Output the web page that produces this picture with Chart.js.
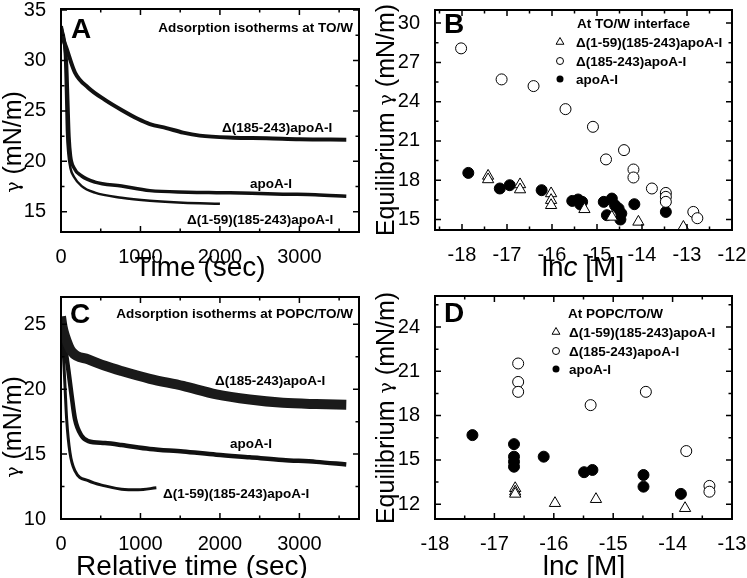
<!DOCTYPE html>
<html lang="en">
<head>
<meta charset="UTF-8">
<title>Adsorption isotherms and equilibrium tension</title>
<script src="https://cdn.jsdelivr.net/npm/chart.js@4.4.0/dist/chart.umd.min.js"></script>
<style>
  body { margin: 0; background: #fff; }
  #wrap { position: relative; width: 747px; height: 578px; }
  canvas { position: absolute; }
</style>
</head>
<body>
<div id="wrap">
  <canvas id="pA" width="373" height="285" style="left:0;top:0"></canvas>
  <canvas id="pB" width="374" height="285" style="left:373px;top:0"></canvas>
  <canvas id="pC" width="373" height="293" style="left:0;top:285px"></canvas>
  <canvas id="pD" width="374" height="293" style="left:373px;top:285px"></canvas>
</div>
<script>
// ---- panel A: adsorption at TO/W (time in sec, gamma in mN/m)
const aTime185 = [0, 20, 70, 176, 343, 553, 762, 971, 1118, 1327, 1536, 1746, 2164, 2583, 3002, 3590];
const aGamma185 = [33.4, 32.4, 31.2, 28.8, 27.3, 26.1, 25.1, 24.2, 23.7, 23.3, 22.85, 22.55, 22.35, 22.3, 22.2, 22.15];
const aTimeApo = [0, 40, 70, 85, 100, 120, 160, 260, 427, 762, 1118, 1600, 1955, 2400, 2792, 3200, 3590];
const aGammaApo = [33.3, 32, 29.5, 26, 22.5, 20.5, 19.4, 18.55, 17.95, 17.55, 17.1, 16.95, 16.9, 16.85, 16.75, 16.7, 16.55];
const aTimeDel = [0, 30, 50, 63, 75, 92, 120, 160, 260, 427, 762, 1118, 1536, 2000];
const aGammaDel = [33.3, 32, 30.5, 27, 23, 20.8, 19.3, 18.5, 17.55, 16.9, 16.4, 16.1, 15.9, 15.8];

// ---- panel C: adsorption at POPC/TO/W
const cTime185 = [0, 20, 50, 134, 343, 553, 762, 1118, 1536, 1955, 2374, 2792, 3211, 3590];
const cGamma185 = [25.6, 24.8, 24.1, 22.9, 22.3, 21.8, 21.4, 20.8, 20.25, 19.6, 19.2, 18.95, 18.85, 18.8];
const cTimeApo = [0, 50, 92, 134, 176, 260, 343, 553, 762, 1118, 1536, 1955, 2374, 2792, 3211, 3590];
const cGammaApo = [25.3, 23.3, 21.5, 19.5, 17.7, 16.4, 16.0, 15.85, 15.7, 15.4, 15.2, 14.95, 14.75, 14.55, 14.4, 14.2];
const cTimeDel = [0, 29, 50, 71, 113, 176, 343, 553, 762, 971, 1200];
const cGammaDel = [25.2, 22.8, 20.25, 17.7, 15.1, 13.7, 12.95, 12.55, 12.3, 12.25, 12.4];

// ---- panel B: equilibrium gamma vs ln c at TO/W
const bLnC185 = [-18.02, -17.12, -16.41, -15.70, -15.09, -14.80, -14.40, -14.19, -14.19, -13.78, -13.47, -13.47, -13.47, -12.86, -12.77];
const bGamma185 = [28.07, 25.70, 25.19, 23.43, 22.08, 19.59, 20.30, 18.82, 18.21, 17.37, 17.03, 16.73, 16.35, 15.58, 15.10];
const bLnCDel = [-17.42, -17.42, -16.71, -16.71, -16.02, -16.02, -16.02, -15.28, -14.67, -14.08, -13.08];
const bGammaDel = [18.33, 18.06, 17.68, 17.29, 16.99, 16.48, 16.09, 15.78, 15.2, 14.82, 14.43];
const bLnCApo = [-17.86, -17.16, -16.94, -16.23, -15.55, -15.42, -15.37, -15.33, -14.85, -14.78, -14.67, -14.60, -14.52, -14.46, -14.48, -14.17, -13.47];
const bGammaApo = [18.56, 17.37, 17.62, 17.24, 16.42, 16.53, 16.15, 16.35, 16.35, 15.33, 16.6, 16.09, 15.84, 15.46, 15.0, 16.17, 15.58];

// ---- panel D: equilibrium gamma vs ln c at POPC/TO/W
const dLnC185 = [-16.60, -16.60, -16.60, -15.38, -14.45, -13.77, -13.38, -13.38];
const dGamma185 = [21.53, 20.28, 19.61, 18.71, 19.61, 15.6, 13.24, 12.85];
const dLnCDel = [-16.65, -16.65, -16.65, -15.98, -15.29, -13.79];
const dGammaDel = [13.08, 12.85, 12.7, 12.07, 12.34, 11.73];
const dLnCApo = [-17.37, -16.67, -16.67, -16.67, -16.67, -16.17, -15.49, -15.35, -14.49, -14.49, -13.86];
const dGammaApo = [16.68, 16.07, 15.22, 14.88, 14.54, 15.22, 14.17, 14.32, 13.98, 13.19, 12.70];

// ---- tick labels
const timeTicks = [0, 1000, 2000, 3000];
const timeMinor = [500, 1500, 2500, 3500];
const aYTicks = [15, 20, 25, 30, 35];
const aYMinor = [17.5, 22.5, 27.5, 32.5];
const cYTicks = [10, 15, 20, 25];
const cYMinor = [12.5, 17.5, 22.5];
const bXTicks = [-18, -17, -16, -15, -14, -13, -12];
const bXMinor = [-18.5, -17.5, -16.5, -15.5, -14.5, -13.5, -12.5];
const bYTicks = [15, 18, 21, 24, 27, 30];
const bYMinor = [16.5, 19.5, 22.5, 25.5, 28.5];
const dXTicks = [-18, -17, -16, -15, -14, -13];
const dXMinor = [-17.5, -16.5, -15.5, -14.5, -13.5];
const dYTicks = [12, 15, 18, 21, 24];
const dYMinor = [13.5, 16.5, 19.5, 22.5, 25.5];

const SANS = '"Liberation Sans", Arial, sans-serif';
Chart.defaults.font.family = SANS;
Chart.defaults.color = '#000';

const pts = (xs, ys) => xs.map((x, i) => ({ x: x, y: ys[i] }));

// frame + inward ticks on all four sides
const frameTicks = {
  id: 'frameTicks',
  afterDraw(chart, args, o) {
    const { ctx, chartArea: a } = chart;
    const x = chart.scales.x, y = chart.scales.y;
    ctx.save();
    ctx.strokeStyle = '#000';
    ctx.lineWidth = 1.5;
    const tick = (vals, len, horiz) => vals.forEach(v => {
      ctx.beginPath();
      if (horiz) {
        const p = x.getPixelForValue(v);
        ctx.moveTo(p, a.bottom); ctx.lineTo(p, a.bottom - len);
        ctx.moveTo(p, a.top); ctx.lineTo(p, a.top + len);
      } else {
        const p = y.getPixelForValue(v);
        ctx.moveTo(a.left, p); ctx.lineTo(a.left + len, p);
        ctx.moveTo(a.right, p); ctx.lineTo(a.right - len, p);
      }
      ctx.stroke();
    });
    tick(o.xMajor, 6, true); tick(o.xMinor, 3.5, true);
    tick(o.yMajor, 6, false); tick(o.yMinor, 3.5, false);
    ctx.lineWidth = 2;
    ctx.strokeRect(a.left, a.top, a.right - a.left, a.bottom - a.top);
    ctx.restore();
  }
};

// titles, annotations and legend symbols
const panelText = {
  id: 'panelText',
  afterDraw(chart, args, o) {
    const ctx = chart.ctx;
    ctx.save();
    ctx.fillStyle = '#000';
    ctx.strokeStyle = '#000';
    (o.items || []).forEach(it => {
      if (it.sym) {
        ctx.lineWidth = 1;
        ctx.beginPath();
        if (it.sym === 'tri') {
          const r = 4.5;
          ctx.moveTo(it.x, it.y - r);
          ctx.lineTo(it.x + r * 0.87, it.y + r * 0.5);
          ctx.lineTo(it.x - r * 0.87, it.y + r * 0.5);
          ctx.closePath();
          ctx.stroke();
        } else {
          ctx.arc(it.x, it.y, 3.5, 0, Math.PI * 2);
          if (it.sym === 'dot') ctx.fill(); else ctx.stroke();
        }
        return;
      }
      let w = 0;
      it.parts.forEach(p => { ctx.font = p[1]; w += ctx.measureText(p[0]).width; });
      ctx.save();
      ctx.translate(it.x, it.y);
      if (it.rot) ctx.rotate(-Math.PI / 2);
      ctx.textBaseline = it.base || 'alphabetic';
      let cx = it.align === 'center' ? -w / 2 : it.align === 'right' ? -w : 0;
      it.parts.forEach(p => {
        ctx.font = p[1];
        ctx.fillText(p[0], cx, 0);
        cx += ctx.measureText(p[0]).width;
      });
      ctx.restore();
    });
    ctx.restore();
  }
};

const B13 = 'bold 13.5px ' + SANS;
const AX = '28px ' + SANS;
const AY = '25px ' + SANS;
const GAM = '19px "DejaVu Serif", serif';

function axis(min, max, ticks, size, isX) {
  return {
    type: 'linear', min: min, max: max,
    grid: { display: false }, border: { display: false },
    ticks: { font: { size: 20 }, color: '#000', padding: isX ? 5 : 7, autoSkip: false, maxRotation: 0, callback: v => String(v) },
    afterBuildTicks: s => { s.ticks = ticks.map(v => ({ value: v })); },
    afterFit: s => {
      if (isX) { s.height = size; s.paddingLeft = 0; s.paddingRight = 0; }
      else { s.width = size; s.paddingTop = 0; s.paddingBottom = 0; }
    }
  };
}

function panel(id, o) {
  return new Chart(document.getElementById(id), {
    type: 'scatter',
    data: { datasets: o.datasets },
    options: {
      responsive: false, animation: false, devicePixelRatio: 1,
      layout: { padding: o.pad },
      plugins: {
        legend: { display: false }, tooltip: { enabled: false },
        frameTicks: { xMajor: o.x[2], xMinor: o.xMinor, yMajor: o.y[2], yMinor: o.yMinor },
        panelText: { items: o.texts }
      },
      scales: {
        x: axis(o.x[0], o.x[1], o.x[2], o.xh, true),
        y: axis(o.y[0], o.y[1], o.y[2], o.yw, false)
      }
    },
    plugins: [frameTicks, panelText]
  });
}

function trace(xs, ys, w, col) {
  return { data: pts(xs, ys), showLine: true, pointRadius: 0, borderColor: col || '#000',
           borderWidth: w, cubicInterpolationMode: 'monotone', fill: false };
}
function marks(xs, ys, style, filled, r) {
  return { data: pts(xs, ys), showLine: false, pointStyle: style, pointRadius: r,
           backgroundColor: filled ? '#000' : '#fff', borderColor: '#000', borderWidth: 1 };
}

// A
panel('pA', {
  pad: { left: 0, top: 9, right: 14, bottom: 0 }, yw: 61, xh: 53,
  x: [0, 3750, timeTicks], xMinor: timeMinor,
  y: [13, 35.1, aYTicks], yMinor: aYMinor,
  datasets: [
    trace(aTime185, aGamma185, 4, '#111'),
    trace(aTimeApo, aGammaApo, 3.5, '#111'),
    trace(aTimeDel, aGammaDel, 2.5, '#111')
  ],
  texts: [
    { parts: [['A', 'bold 28px ' + SANS]], x: 81, y: 38, align: 'center' },
    { parts: [['Adsorption isotherms at TO/W', B13]], x: 353, y: 32, align: 'right' },
    { parts: [['Δ(185-243)apoA-I', B13]], x: 222, y: 132 },
    { parts: [['apoA-I', B13]], x: 250, y: 188 },
    { parts: [['Δ(1-59)(185-243)apoA-I', B13]], x: 187, y: 224 },
    { parts: [['γ', GAM], [' (mN/m)', AY]], x: 14, y: 142, align: 'center', rot: true, base: 'middle' },
    { parts: [['Time (sec)', AX]], x: 200, y: 268, align: 'center', base: 'middle' }
  ]
});

// B
panel('pB', {
  pad: { left: 0, top: 10, right: 15, bottom: 0 }, yw: 62, xh: 55,
  x: [-18.6, -12, bXTicks], xMinor: bXMinor,
  y: [14.2, 31, bYTicks], yMinor: bYMinor,
  datasets: [
    marks(bLnC185, bGamma185, 'circle', false, 5.5),
    marks(bLnCDel, bGammaDel, 'triangle', false, 6.5),
    marks(bLnCApo, bGammaApo, 'circle', true, 5.5)
  ],
  texts: [
    { parts: [['B', 'bold 28px ' + SANS]], x: 81, y: 33, align: 'center' },
    { parts: [['At TO/W interface', B13]], x: 204, y: 28 },
    { sym: 'tri', x: 187, y: 42 },
    { parts: [['Δ(1-59)(185-243)apoA-I', B13]], x: 203, y: 47 },
    { sym: 'open', x: 187, y: 61 },
    { parts: [['Δ(185-243)apoA-I', B13]], x: 203, y: 66 },
    { sym: 'dot', x: 187, y: 79 },
    { parts: [['apoA-I', B13]], x: 203, y: 84 },
    { parts: [['Equilibrium ', AY], ['γ', GAM], [' (mN/m)', AY]], x: 14, y: 120, align: 'center', rot: true, base: 'middle' },
    { parts: [['ln', AX], ['c', 'italic ' + AX], [' [M]', AX]], x: 210, y: 268, align: 'center', base: 'middle' }
  ]
});

// C
panel('pC', {
  pad: { left: 0, top: 12, right: 14, bottom: 0 }, yw: 61, xh: 59,
  x: [0, 3750, timeTicks], xMinor: timeMinor,
  y: [10, 27.1, cYTicks], yMinor: cYMinor,
  datasets: [
    trace(cTime185, cGamma185, 10, '#1a1a1a'),
    trace(cTimeApo, cGammaApo, 4.5, '#111'),
    trace(cTimeDel, cGammaDel, 3, '#111')
  ],
  texts: [
    { parts: [['C', 'bold 28px ' + SANS]], x: 80, y: 38, align: 'center' },
    { parts: [['Adsorption isotherms at POPC/TO/W', B13]], x: 353, y: 33, align: 'right' },
    { parts: [['Δ(185-243)apoA-I', B13]], x: 215, y: 100 },
    { parts: [['apoA-I', B13]], x: 230, y: 163 },
    { parts: [['Δ(1-59)(185-243)apoA-I', B13]], x: 163, y: 213 },
    { parts: [['γ', GAM], [' (mN/m)', AY]], x: 14, y: 142, align: 'center', rot: true, base: 'middle' },
    { parts: [['Relative time (sec)', AX]], x: 192, y: 282, align: 'center', base: 'middle' }
  ]
});

// D
panel('pD', {
  pad: { left: 0, top: 11, right: 15, bottom: 0 }, yw: 62, xh: 59,
  x: [-18, -13, dXTicks], xMinor: dXMinor,
  y: [11, 26.1, dYTicks], yMinor: dYMinor,
  datasets: [
    marks(dLnC185, dGamma185, 'circle', false, 5.5),
    marks(dLnCDel, dGammaDel, 'triangle', false, 6.5),
    marks(dLnCApo, dGammaApo, 'circle', true, 5.5)
  ],
  texts: [
    { parts: [['D', 'bold 28px ' + SANS]], x: 81, y: 37, align: 'center' },
    { parts: [['At POPC/TO/W', B13]], x: 195, y: 33 },
    { sym: 'tri', x: 183, y: 47 },
    { parts: [['Δ(1-59)(185-243)apoA-I', B13]], x: 196, y: 52 },
    { sym: 'open', x: 183, y: 66 },
    { parts: [['Δ(185-243)apoA-I', B13]], x: 196, y: 71 },
    { sym: 'dot', x: 183, y: 84 },
    { parts: [['apoA-I', B13]], x: 196, y: 89 },
    { parts: [['Equilibrium ', AY], ['γ', GAM], [' (mN/m)', AY]], x: 14, y: 123, align: 'center', rot: true, base: 'middle' },
    { parts: [['ln', AX], ['c', 'italic ' + AX], [' [M]', AX]], x: 211, y: 282, align: 'center', base: 'middle' }
  ]
});
</script>
</body>
</html>
